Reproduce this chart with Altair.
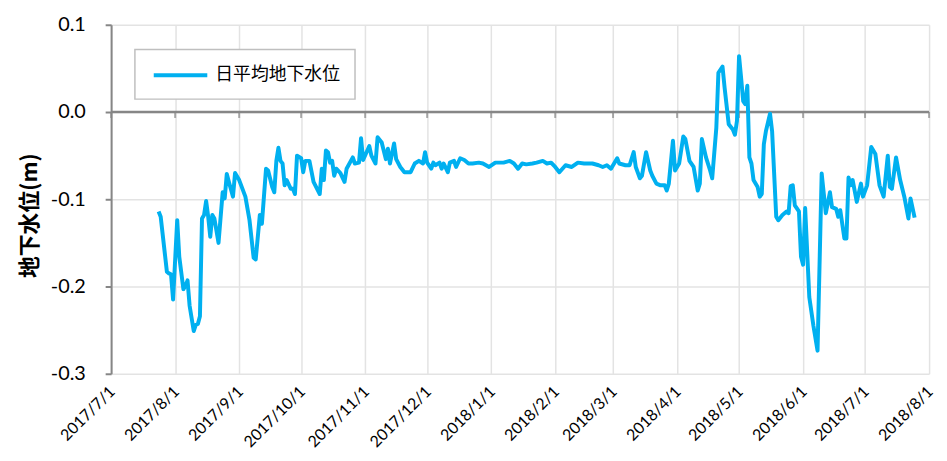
import altair as alt
import pandas as pd

# ---- data ----
dates = [
    # 2017-07
    "2017-07-24", "2017-07-25", "2017-07-28", "2017-07-29", "2017-07-30", "2017-07-31",
    # 2017-08
    "2017-08-02", "2017-08-03", "2017-08-05", "2017-08-06", "2017-08-07", "2017-08-08",
    "2017-08-10", "2017-08-11", "2017-08-12", "2017-08-13", "2017-08-14", "2017-08-15",
    "2017-08-16", "2017-08-17", "2017-08-18", "2017-08-19", "2017-08-20", "2017-08-22",
    "2017-08-24", "2017-08-25", "2017-08-26", "2017-08-27", "2017-08-29", "2017-08-30",
    # 2017-09
    "2017-09-01", "2017-09-04", "2017-09-06", "2017-09-08", "2017-09-09", "2017-09-11",
    "2017-09-12", "2017-09-14", "2017-09-15", "2017-09-17", "2017-09-18", "2017-09-19",
    "2017-09-20", "2017-09-21", "2017-09-22", "2017-09-23", "2017-09-24", "2017-09-26",
    "2017-09-27", "2017-09-28", "2017-09-29",
    # 2017-10
    "2017-10-01", "2017-10-02", "2017-10-03", "2017-10-05", "2017-10-07", "2017-10-10",
    "2017-10-11", "2017-10-12", "2017-10-13", "2017-10-14", "2017-10-15", "2017-10-16",
    "2017-10-17", "2017-10-18", "2017-10-20", "2017-10-22", "2017-10-23", "2017-10-26",
    "2017-10-27", "2017-10-29", "2017-10-30", "2017-10-31",
    # 2017-11
    "2017-11-03", "2017-11-04", "2017-11-06", "2017-11-07", "2017-11-09", "2017-11-11",
    "2017-11-12", "2017-11-13", "2017-11-15", "2017-11-16", "2017-11-18", "2017-11-20",
    "2017-11-23", "2017-11-25", "2017-11-27", "2017-11-29", "2017-11-30",
    # 2017-12
    "2017-12-01", "2017-12-03", "2017-12-04", "2017-12-05", "2017-12-07", "2017-12-08",
    "2017-12-09", "2017-12-11", "2017-12-12", "2017-12-14", "2017-12-15", "2017-12-17",
    "2017-12-19", "2017-12-21", "2017-12-23", "2017-12-26", "2017-12-28", "2017-12-31",
    # 2018-01
    "2018-01-03", "2018-01-05", "2018-01-07", "2018-01-10", "2018-01-12", "2018-01-14",
    "2018-01-16", "2018-01-18", "2018-01-21", "2018-01-23", "2018-01-26", "2018-01-28",
    "2018-01-30",
    # 2018-02
    "2018-02-01", "2018-02-03", "2018-02-06", "2018-02-09", "2018-02-12", "2018-02-15",
    "2018-02-17", "2018-02-19", "2018-02-22", "2018-02-24", "2018-02-26", "2018-02-28",
    # 2018-03
    "2018-03-03", "2018-03-04", "2018-03-07", "2018-03-09", "2018-03-11", "2018-03-12",
    "2018-03-14", "2018-03-15", "2018-03-17", "2018-03-19", "2018-03-20", "2018-03-22",
    "2018-03-24", "2018-03-26", "2018-03-27", "2018-03-28", "2018-03-30", "2018-03-31",
    # 2018-04
    "2018-04-02", "2018-04-04", "2018-04-05", "2018-04-07", "2018-04-09", "2018-04-11",
    "2018-04-12", "2018-04-13", "2018-04-15", "2018-04-17", "2018-04-18", "2018-04-20",
    "2018-04-21", "2018-04-23", "2018-04-24", "2018-04-26", "2018-04-28", "2018-04-29",
    "2018-04-30",
    # 2018-05
    "2018-05-01", "2018-05-02", "2018-05-03", "2018-05-04", "2018-05-05", "2018-05-06",
    "2018-05-07", "2018-05-08", "2018-05-10", "2018-05-11", "2018-05-12", "2018-05-13",
    "2018-05-14", "2018-05-16", "2018-05-17", "2018-05-19", "2018-05-20", "2018-05-22",
    "2018-05-24", "2018-05-25", "2018-05-26", "2018-05-27", "2018-05-28", "2018-05-30",
    "2018-05-31",
    # 2018-06
    "2018-06-01", "2018-06-02", "2018-06-04", "2018-06-06", "2018-06-08", "2018-06-10",
    "2018-06-12", "2018-06-14", "2018-06-15", "2018-06-17", "2018-06-18", "2018-06-19",
    "2018-06-21", "2018-06-22", "2018-06-23", "2018-06-24", "2018-06-25", "2018-06-27",
    "2018-06-29", "2018-06-30",
    # 2018-07
    "2018-07-02", "2018-07-04", "2018-07-06", "2018-07-08", "2018-07-10", "2018-07-12",
    "2018-07-13", "2018-07-14", "2018-07-16", "2018-07-18", "2018-07-20", "2018-07-22",
    "2018-07-23", "2018-07-25",
]

levels = [
    # 2017-07
    -0.114, -0.120, -0.183, -0.185, -0.186, -0.215,
    # 2017-08
    -0.124, -0.166, -0.203, -0.199, -0.193, -0.222,
    -0.251, -0.244, -0.243, -0.234, -0.122, -0.118,
    -0.102, -0.120, -0.143, -0.118, -0.122, -0.150,
    -0.092, -0.099, -0.071, -0.080, -0.097, -0.070,
    # 2017-09
    -0.078, -0.097, -0.124, -0.167, -0.169, -0.118,
    -0.128, -0.065, -0.067, -0.086, -0.092, -0.056,
    -0.041, -0.056, -0.059, -0.084, -0.078, -0.088,
    -0.088, -0.094, -0.050,
    # 2017-10
    -0.053, -0.069, -0.056, -0.056, -0.080, -0.094,
    -0.065, -0.078, -0.044, -0.046, -0.058, -0.056,
    -0.073, -0.065, -0.070, -0.080, -0.065, -0.052,
    -0.059, -0.058, -0.030, -0.055,
    # 2017-11
    -0.039, -0.050, -0.059, -0.029, -0.035, -0.054,
    -0.042, -0.059, -0.036, -0.054, -0.063, -0.069,
    -0.069, -0.059, -0.056, -0.059, -0.046,
    # 2017-12
    -0.058, -0.065, -0.058, -0.061, -0.058, -0.065,
    -0.059, -0.069, -0.058, -0.056, -0.063, -0.053,
    -0.055, -0.059, -0.059, -0.058, -0.059, -0.063,
    # 2018-01
    -0.058, -0.058, -0.058, -0.056, -0.059, -0.065,
    -0.059, -0.060, -0.059, -0.058, -0.056, -0.059,
    -0.058,
    # 2018-02
    -0.063, -0.069, -0.061, -0.063, -0.058, -0.059,
    -0.059, -0.059, -0.061, -0.063, -0.061, -0.065,
    # 2018-03
    -0.053, -0.059, -0.061, -0.061, -0.046, -0.063,
    -0.076, -0.073, -0.046, -0.067, -0.073, -0.082,
    -0.084, -0.084, -0.090, -0.082, -0.033, -0.067,
    # 2018-04
    -0.059, -0.028, -0.031, -0.056, -0.063, -0.090,
    -0.082, -0.031, -0.052, -0.067, -0.076, -0.018,
    0.045, 0.052, 0.028, -0.014, -0.020, -0.026,
    -0.010,
    # 2018-05
    0.064, 0.039, 0.0125, 0.009, 0.030, -0.052,
    -0.059, -0.078, -0.086, -0.097, -0.094, -0.037,
    -0.022, -0.002, -0.022, -0.120, -0.124, -0.118,
    -0.114, -0.116, -0.085, -0.084, -0.107, -0.114,
    -0.166,
    # 2018-06
    -0.175, -0.110, -0.212, -0.245, -0.2735, -0.0705,
    -0.116, -0.092, -0.109, -0.111, -0.120, -0.1125,
    -0.145, -0.145, -0.075, -0.084, -0.078, -0.103,
    -0.082, -0.097,
    # 2018-07
    -0.084, -0.040, -0.048, -0.084, -0.097, -0.050,
    -0.086, -0.088, -0.052, -0.078, -0.097, -0.122,
    -0.099, -0.121,
]

month_ticks = [
    (2017, 7), (2017, 8), (2017, 9), (2017, 10), (2017, 11), (2017, 12),
    (2018, 1), (2018, 2), (2018, 3), (2018, 4), (2018, 5), (2018, 6),
    (2018, 7), (2018, 8),
]
y_ticks = [-0.3, -0.2, -0.1, 0.0, 0.1]
series_name = "日平均地下水位"
y_title = "地下水位(m)"

LINE_COLOR = "#00b0f0"
AXIS_GRAY = "#868686"
GRID_GRAY = "#e3e3e3"
NUM_FONT = "Lato"
CJK_FONT = "Noto Sans CJK JP"

n = min(len(dates), len(levels))
df = pd.DataFrame({
    "date": pd.to_datetime(dates[:n]),
    "level": levels[:n],
    "series": [series_name] * n,
})
month_dt = [alt.DateTime(year=y, month=m, date=1) for y, m in month_ticks]
month_df = pd.DataFrame({
    "month": pd.to_datetime([f"{y}-{m:02d}-01" for y, m in month_ticks]),
    "z": [0.0] * len(month_ticks),
})
zero_df = pd.DataFrame({"zero": [0.0]})

x_scale = alt.Scale(domain=[month_dt[0], month_dt[-1]], nice=False)
y_scale = alt.Scale(domain=[y_ticks[0], y_ticks[-1]], nice=False, zero=False)

line = alt.Chart(df).mark_line(strokeWidth=4, strokeJoin="round").encode(
    x=alt.X(
        "date:T",
        scale=x_scale,
        axis=alt.Axis(
            values=month_dt,
            format="%Y/%-m/%-d",
            labelAngle=-45,
            labelAlign="right",
            labelBaseline="middle",
            labelPadding=15,
            labelOffset=1,
            labelFont=NUM_FONT,
            labelFontSize=16,
            labelColor="#000000",
            labelOverlap=False,
            labelFlush=False,
            domain=False,
            ticks=False,
            tickSize=0,
            grid=True,
            gridColor=GRID_GRAY,
            gridWidth=1.5,
            title=None,
        ),
    ),
    y=alt.Y(
        "level:Q",
        scale=y_scale,
        axis=alt.Axis(
            values=y_ticks,
            labelExpr="datum.value < 0 ? '-' + format(-datum.value, '.1f') : format(datum.value, '.1f')",
            labelFont=NUM_FONT,
            labelFontSize=20,
            labelColor="#000000",
            labelPadding=20,
            labelFlush=False,
            domainColor=AXIS_GRAY,
            domainWidth=2,
            tickColor=AXIS_GRAY,
            tickWidth=2,
            tickSize=6,
            grid=True,
            gridColor=GRID_GRAY,
            gridWidth=1.5,
            title=y_title,
            titleFont=CJK_FONT,
            titleFontSize=22,
            titleFontWeight="bold",
            titleColor="#000000",
            titleAngle=-90,
            titleX=-82,
            titleY=192,
            titleAlign="center",
            titleBaseline="middle",
        ),
    ),
    color=alt.Color(
        "series:N",
        scale=alt.Scale(range=[LINE_COLOR]),
        legend=alt.Legend(
            title=None,
            orient="none",
            legendX=24,
            legendY=25,
            symbolType="M-3,0H3",
            symbolSize=324,
            symbolStrokeWidth=4,
            symbolStrokeColor=LINE_COLOR,
            symbolOffset=20,
            labelFont=CJK_FONT,
            labelFontSize=18,
            labelColor="#000000",
            labelOffset=24,
            padding=15,
            strokeColor="#bfbfbf",
            fillColor="#ffffff",
        ),
    ),
)

zero_rule = alt.Chart(zero_df).mark_rule(color=AXIS_GRAY, strokeWidth=2.5).encode(
    y=alt.Y("zero:Q", scale=y_scale)
)

zero_ticks = alt.Chart(month_df).mark_tick(
    color=AXIS_GRAY, thickness=2, size=6, orient="vertical", yOffset=3
).encode(
    x=alt.X("month:T", scale=x_scale),
    y=alt.Y("z:Q", scale=y_scale),
)

chart = (
    alt.layer(zero_rule, zero_ticks, line)
    .properties(
        width=825,
        height=352,
        autosize=alt.AutoSizeParams(type="none"),
        padding={"left": 104, "top": 15, "right": 10, "bottom": 78},
    )
    .configure_view(strokeWidth=0)
    .configure_legend(strokeWidth=1.5)
)

chart.save("out.html", embed_options={"renderer": "svg", "actions": False})
